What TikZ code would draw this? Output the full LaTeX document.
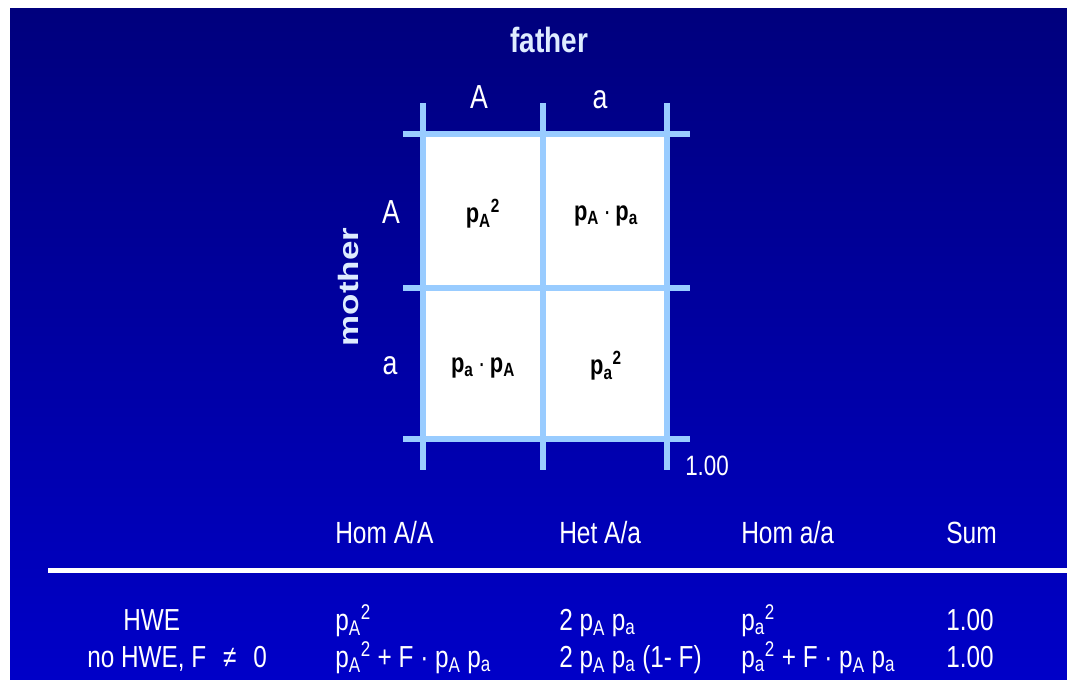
\documentclass[tikz,border=0pt]{standalone}
\usepackage{fontspec}
\setmainfont{Liberation Sans}[FakeStretch=0.8]
\newfontfamily\wideface{Liberation Sans}
\definecolor{bgtop}{RGB}{0,0,125}
\definecolor{bgbot}{RGB}{0,0,200}
\definecolor{gridblue}{RGB}{153,204,255}
\definecolor{paletext}{RGB}{222,236,255}
\newcommand\lowidx[1]{\raisebox{-0.22em}{\fontsize{0.72\dimexpr\fontdimen6\font\relax}{1em}\selectfont #1}}
\begin{document}
\begin{tikzpicture}[x=0.75pt,y=-0.75pt,
  every node/.style={inner sep=0pt},
  titlelbl/.style={text=paletext, font=\fontsize{26.25pt}{30pt}\selectfont\bfseries},
  allele/.style={text=white, font=\fontsize{25pt}{28pt}\selectfont},
  cell/.style={text=black, font=\fontsize{20.5pt}{24pt}\selectfont\bfseries},
  sumlbl/.style={text=white, font=\fontsize{21pt}{24pt}\selectfont},
  head/.style={text=white, anchor=base west, font=\fontsize{23pt}{26pt}\selectfont},
  entry/.style={text=white, anchor=base west, font=\fontsize{22.8pt}{26pt}\selectfont},
  gridline/.style={draw=gridblue, line width=4.1pt},
  rule/.style={draw=white, line width=4pt}]
\useasboundingbox (0,0) rectangle (1067,680);
\fill[white] (0,0) rectangle (1067,680);
\shade[top color=bgtop, bottom color=bgbot] (10,9) rectangle (1067,680);

% cells
\fill[white] (423,134) rectangle (667,439);
% grid
\foreach \x in {423,543,667} \draw[gridline] (\x,103) -- (\x,470);
\foreach \y in {134,288,439} \draw[gridline] (403,\y) -- (690,\y);

% labels
\node[titlelbl, anchor=base] (father) at (549,53) {father};
\node[titlelbl, anchor=base, rotate=90] (mother) at (358,287) {\scalebox{1}[0.8]{\wideface\bfseries mother}};
\node[allele, anchor=base] (fA) at (479,109) {A};
\node[allele, anchor=base] (fa) at (600,109) {a};
\node[allele, anchor=base] (mA) at (391,224) {A};
\node[allele, anchor=base] (ma) at (390,375) {a};

\node[cell] (cAA) at (483,214) {p\textsubscript{A}\textsuperscript{2}};
\node[cell] (cAa) at (606,216) {p\textsubscript{A}\,{\mdseries ·}\,p\textsubscript{a}};
\node[cell] (caA) at (483,368) {p\textsubscript{a}\,{\mdseries ·}\,p\textsubscript{A}};
\node[cell] (caa) at (606,366) {p\textsubscript{a}\textsuperscript{2}};

\node[sumlbl, anchor=base west] (gsum) at (685,475) {1.00};

% table
\node[head] (h1) at (335,543) {Hom A/A};
\node[head] (h2) at (559,543) {Het A/a};
\node[head] (h3) at (741,543) {Hom a/a};
\node[head] (h4) at (946,543) {Sum};
\coordinate (rl) at (48,570.5);
\coordinate (rr) at (1067,570.5);
\draw[rule] (rl) -- (rr);

\node[entry] (r1l) at (123,630) {HWE};
\node[entry] (r1a) at (335,630) {p\textsubscript{A}\textsuperscript{2}};
\node[entry] (r1b) at (559,630) {2 p\textsubscript{A} p\textsubscript{a}};
\node[entry] (r1c) at (741,630) {p\textsubscript{a}\textsuperscript{2}};
\node[entry] (r1d) at (946,630) {1.00};

\node[entry] (r2l) at (87,667) {no HWE, F\,\, ≠\,\, 0};
\node[entry] (r2a) at (335,667) {p\textsubscript{A}\textsuperscript{2} + F · p\textsubscript{A} p\textsubscript{a}};
\node[entry] (r2b) at (559,667) {2 p\textsubscript{A} p\textsubscript{a} (1- F)};
\node[entry] (r2c) at (741,667) {p\textsubscript{a}\textsuperscript{2} + F · p\textsubscript{A} p\textsubscript{a}};
\node[entry] (r2d) at (946,667) {1.00};
\end{tikzpicture}
\end{document}
